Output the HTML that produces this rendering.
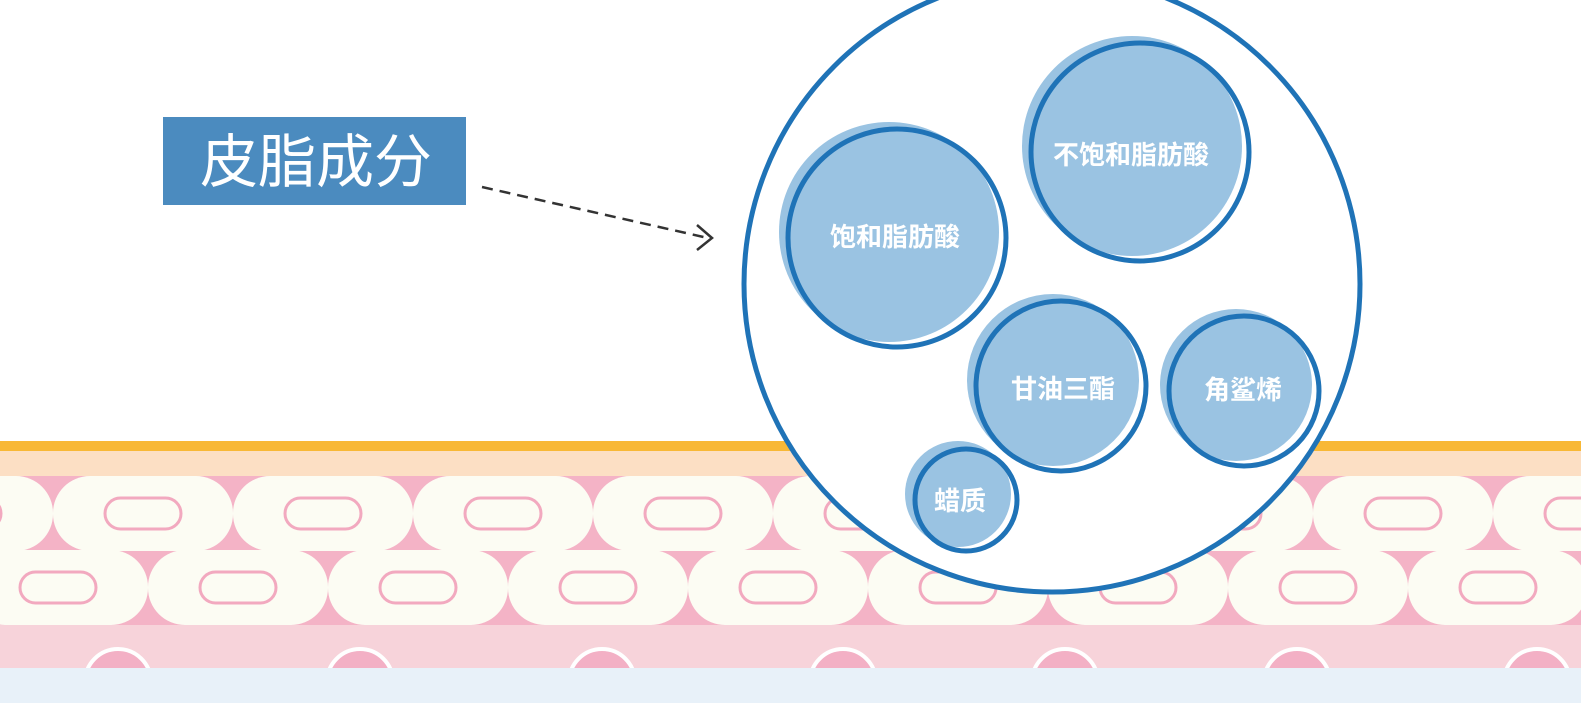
<!DOCTYPE html>
<html><head><meta charset="utf-8"><style>
html,body{margin:0;padding:0;background:#fff;width:1581px;height:703px;overflow:hidden}
</style></head><body>
<svg width="1581" height="703" viewBox="0 0 1581 703" xmlns="http://www.w3.org/2000/svg" font-family="'Liberation Sans','Noto Sans CJK SC',sans-serif">
<defs>
<pattern id="r1" patternUnits="userSpaceOnUse" x="53" y="476" width="180" height="75">
<rect x="0" y="0" width="180" height="75" rx="37" fill="#fcfcf3"/>
<rect x="52" y="22" width="76" height="31" rx="15.5" fill="none" stroke="#f2a9bf" stroke-width="3"/>
</pattern>
<pattern id="r2" patternUnits="userSpaceOnUse" x="-32" y="550" width="180" height="75">
<rect x="0" y="0" width="180" height="75" rx="37" fill="#fcfcf3"/>
<rect x="52" y="22" width="76" height="31" rx="15.5" fill="none" stroke="#f2a9bf" stroke-width="3"/>
</pattern>
</defs>
<rect x="0" y="0" width="1581" height="703" fill="#fff"/>
<rect x="0" y="441" width="1581" height="10" fill="#f8b836"/>
<rect x="0" y="451" width="1581" height="25" fill="#fcdfc4"/>
<rect x="0" y="476" width="1581" height="149" fill="#f4b3c6"/>
<rect x="0" y="476" width="1581" height="75" fill="url(#r1)"/>
<rect x="0" y="550" width="1581" height="75" fill="url(#r2)"/>
<rect x="0" y="625" width="1581" height="43" fill="#f7d3da"/>
<g fill="#f3b0c5" stroke="#fff" stroke-width="4">
<circle cx="118" cy="682" r="33"/><circle cx="360" cy="682" r="33"/><circle cx="602" cy="682" r="33"/>
<circle cx="843" cy="682" r="33"/><circle cx="1065" cy="682" r="33"/><circle cx="1297" cy="682" r="33"/><circle cx="1537" cy="682" r="33"/>
</g>
<rect x="0" y="668" width="1581" height="35" fill="#e8f1f9"/>

<rect x="163" y="117" width="303" height="88" fill="#4b8bbf"/>
<text x="316" y="182" font-size="58" fill="#fff" text-anchor="middle">皮脂成分</text>
<line x1="482" y1="187" x2="708" y2="238" stroke="#333" stroke-width="2.5" stroke-dasharray="11,7"/>
<polyline points="697,225 712,238 697,250" fill="none" stroke="#333" stroke-width="2.5"/>

<circle cx="1052" cy="284" r="308" fill="#fff" stroke="#1f73b7" stroke-width="5"/>

<g font-weight="bold">
<circle cx="889" cy="232" r="110" fill="#9ac3e2"/>
<circle cx="897" cy="238" r="109" fill="none" stroke="#1f73b7" stroke-width="5"/>
<text x="895" y="246" font-size="26" fill="#fff" text-anchor="middle">饱和脂肪酸</text>

<circle cx="1132" cy="146" r="110" fill="#9ac3e2"/>
<circle cx="1140" cy="152" r="109" fill="none" stroke="#1f73b7" stroke-width="5"/>
<text x="1131" y="164" font-size="26" fill="#fff" text-anchor="middle">不饱和脂肪酸</text>

<circle cx="1053" cy="380" r="86" fill="#9ac3e2"/>
<circle cx="1061" cy="386" r="85" fill="none" stroke="#1f73b7" stroke-width="5"/>
<text x="1063" y="398" font-size="26" fill="#fff" text-anchor="middle">甘油三酯</text>

<circle cx="1236" cy="385" r="76" fill="#9ac3e2"/>
<circle cx="1244" cy="391" r="75" fill="none" stroke="#1f73b7" stroke-width="5"/>
<text x="1243" y="399" font-size="26" fill="#fff" text-anchor="middle">角鲨烯</text>

<circle cx="958" cy="494" r="53" fill="#9ac3e2"/>
<circle cx="966" cy="500" r="51" fill="none" stroke="#1f73b7" stroke-width="5"/>
<text x="960" y="510" font-size="26" fill="#fff" text-anchor="middle">蜡质</text>
</g>
</svg>
</body></html>
